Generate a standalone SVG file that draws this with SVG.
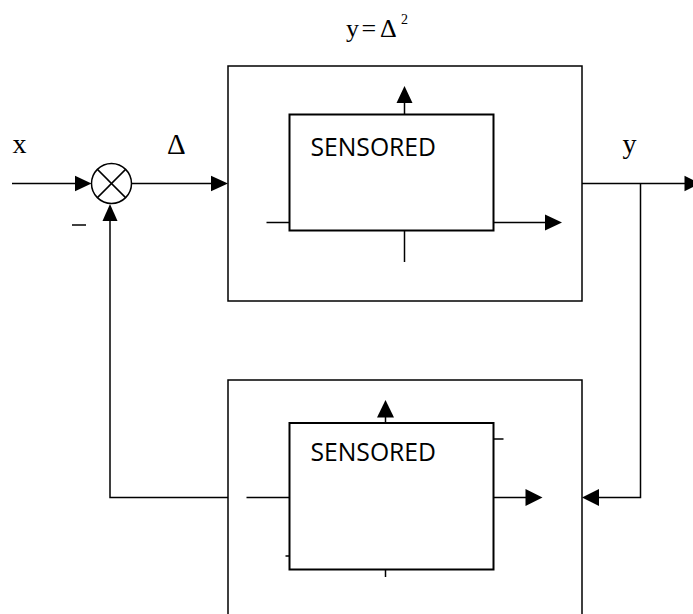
<svg xmlns="http://www.w3.org/2000/svg" width="693" height="614" viewBox="0 0 693 614">
<style>
.ln{fill:none;stroke:#000;stroke-width:1.5}
.box{fill:none;stroke:#000;stroke-width:1.5}
.inner{fill:none;stroke:#000;stroke-width:2}
.ah{fill:#000;stroke:none}
.serif{font-family:"Liberation Serif","Times New Roman",serif;fill:#000}
.sans{font-family:"Open Sans","Noto Sans",sans-serif;fill:#000;font-size:25px}
</style>
<rect width="693" height="614" fill="#fff"/>
<g id="equation">
<text class="serif" x="346" y="37" font-size="26">y</text>
<text class="serif" x="361.5" y="37" font-size="26">=</text>
<text class="serif" x="380" y="37" font-size="26">Δ</text>
<text class="serif" x="401" y="24" font-size="14">2</text>
</g>
<g id="labels">
<text class="serif" x="12.5" y="153" font-size="28">x</text>
<text class="serif" x="167" y="154" font-size="29">Δ</text>
<text class="serif" x="622.5" y="153" font-size="28">y</text>
<line class="ln" x1="72" y1="225" x2="86" y2="225"/>
</g>
<g id="summer">
<circle class="ln" cx="111.5" cy="183.5" r="20"/>
<line class="ln" x1="97.4" y1="169.4" x2="125.6" y2="197.6"/>
<line class="ln" x1="125.6" y1="169.4" x2="97.4" y2="197.6"/>
</g>
<g id="upper-block">
<rect class="box" x="228" y="66" width="354" height="235"/>
<rect class="inner" x="289.5" y="114.5" width="204" height="116"/>
<text class="sans" x="310.5" y="155.5" textLength="125.5" lengthAdjust="spacingAndGlyphs">SENSORED</text>
<line class="ln" x1="404.5" y1="114" x2="404.5" y2="101"/>
<polygon class="ah" points="404.5,86 396.5,103 412.5,103"/>
<line class="ln" x1="266.5" y1="222.5" x2="289.5" y2="222.5"/>
<line class="ln" x1="493.5" y1="222.5" x2="546" y2="222.5"/>
<polygon class="ah" points="562,222.5 545,214.5 545,230.5"/>
<line class="ln" x1="404.5" y1="231" x2="404.5" y2="262"/>
</g>
<g id="lower-block">
<path class="box" d="M228,616 V380 H582 V616"/>
<rect class="inner" x="289.5" y="423" width="204" height="146.5"/>
<text class="sans" x="310.5" y="460.7" textLength="125.5" lengthAdjust="spacingAndGlyphs">SENSORED</text>
<line class="ln" x1="385.5" y1="423" x2="385.5" y2="416"/>
<polygon class="ah" points="385.5,400 377,417.5 394,417.5"/>
<line class="ln" x1="494" y1="439" x2="503.5" y2="439"/>
<line class="ln" x1="246.5" y1="497.5" x2="289.5" y2="497.5"/>
<line class="ln" x1="493.5" y1="497.5" x2="527" y2="497.5"/>
<polygon class="ah" points="542.5,497.5 525.5,489 525.5,506"/>
<line class="ln" x1="285.5" y1="556" x2="289.5" y2="556"/>
<line class="ln" x1="385.5" y1="570" x2="385.5" y2="577"/>
</g>
<g id="connectors">
<line class="ln" x1="12" y1="183.5" x2="77" y2="183.5"/>
<polygon class="ah" points="91.5,183.5 75,175.8 75,191.2"/>
<line class="ln" x1="131.5" y1="183.5" x2="213" y2="183.5"/>
<polygon class="ah" points="228,183.5 211,175.8 211,191.2"/>
<line class="ln" x1="582" y1="183.5" x2="686" y2="183.5"/>
<polygon class="ah" points="700,183.5 684.5,175.8 684.5,191.2"/>
<polyline class="ln" points="640.5,183.5 640.5,497.5 598,497.5"/>
<polygon class="ah" points="582,497.5 599,489 599,506"/>
<polyline class="ln" points="228,497.5 110,497.5 110,219"/>
<polygon class="ah" points="110,204 102.5,221 117.5,221"/>
</g>
</svg>
